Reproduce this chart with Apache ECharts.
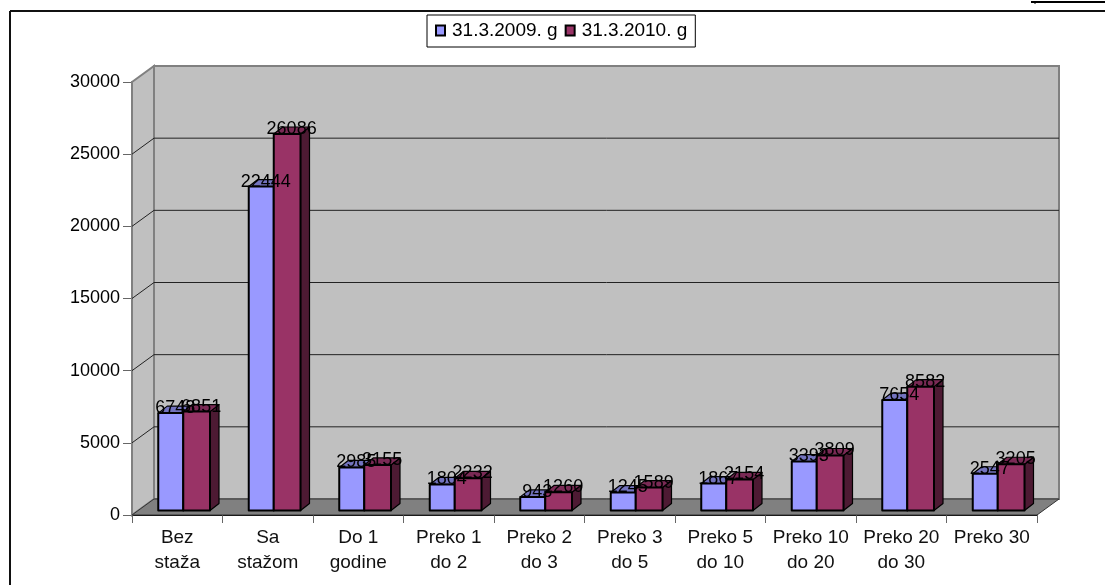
<!DOCTYPE html>
<html>
<head>
<meta charset="utf-8">
<script src="https://cdn.jsdelivr.net/npm/echarts@6/dist/echarts.min.js"></script>
<style>
  * { margin: 0; padding: 0; }
  body { background: #fff; }
  #chart-container { width: 1105px; height: 585px; overflow: hidden; }
</style>
</head>
<body>
<div id="chart-container"></div>
<script>
var categories = ['Bez\nstaža', 'Sa\nstažom', 'Do 1\ngodine', 'Preko 1\ndo 2', 'Preko 2\ndo 3', 'Preko 3\ndo 5', 'Preko 5\ndo 10', 'Preko 10\ndo 20', 'Preko 20\ndo 30', 'Preko 30']
var seriesNames = ['31.3.2009. g', '31.3.2010. g']
var values2009 = [6748, 22444, 2985, 1804, 943, 1245, 1867, 3393, 7654, 2547]
var values2010 = [6851, 26086, 3155, 2232, 1260, 1589, 2154, 3809, 8582, 3205]
var yTicks = [0, 5000, 10000, 15000, 20000, 25000, 30000]

var font = '"Liberation Sans", Arial, sans-serif'
// offset of the back wall from the front of the box
var wallX = 22
var wallY = -16

function toPairs(list) {
  return list.map(function (v, i) { return [i, v] })
}

function renderWalls(params, api) {
  var sys = params.coordSys
  var left = sys.x
  var right = sys.x + sys.width
  var top = sys.y
  var bottom = sys.y + sys.height
  var y = api.coord([0, api.value(0)])[1]
  var children = []
  if (params.dataIndex === 0) {
    children.push({
      type: 'polygon',
      shape: { points: [[left, top], [left + wallX, top + wallY], [left + wallX, bottom + wallY], [left, bottom]] },
      style: { fill: '#c0c0c0', stroke: '#808080', lineWidth: 2 },
    })
    children.push({
      type: 'polygon',
      shape: { points: [[left + wallX, top + wallY], [right + wallX, top + wallY], [right + wallX, bottom + wallY], [left + wallX, bottom + wallY]] },
      style: { fill: '#c0c0c0', stroke: '#808080', lineWidth: 2 },
    })
    children.push({
      type: 'polygon',
      shape: { points: [[left, bottom], [right, bottom], [right + wallX, bottom + wallY], [left + wallX, bottom + wallY]] },
      style: { fill: '#808080', stroke: '#333', lineWidth: 1 },
    })
  }
  if (api.value(0) > 0 && api.value(0) < 30000) {
    children.push({
      type: 'polyline',
      shape: { points: [[left, y], [left + wallX, y + wallY], [right + wallX, y + wallY]] },
      style: { fill: 'none', stroke: '#222', lineWidth: 1 },
    })
  }
  return { type: 'group', children: children }
}

function renderBars(from, to, front, topFace, side) {
  return function (params, api) {
    var top = api.coord([api.value(0), api.value(1)])
    var base = api.coord([api.value(0), 0])
    var x0 = top[0] + from
    var x1 = top[0] + to
    var yTop = top[1] - 4.5
    var yBase = base[1] - 4.5
    var dx = 9
    var dy = -7
    var thin = { stroke: '#000', lineWidth: 1.2, lineJoin: 'round' }
    var thick = { stroke: '#000', lineWidth: 2, lineJoin: 'round' }
    return {
      type: 'group',
      children: [
        {
          type: 'polygon',
          shape: { points: [[x1, yTop], [x1 + dx, yTop + dy], [x1 + dx, yBase + dy], [x1, yBase]] },
          style: Object.assign({ fill: side }, thin),
        },
        {
          type: 'polygon',
          shape: { points: [[x0, yTop], [x1, yTop], [x1 + dx, yTop + dy], [x0 + dx, yTop + dy]] },
          style: Object.assign({ fill: topFace }, thin),
        },
        {
          type: 'rect',
          shape: { x: x0, y: yTop, width: x1 - x0, height: yBase - yTop },
          style: Object.assign({ fill: front }, thick),
        },
        {
          type: 'text',
          z2: 100,
          style: {
            text: String(api.value(1)),
            x: (x0 + x1) / 2 + 4.5,
            y: yTop - 5,
            align: 'center',
            verticalAlign: 'middle',
            fill: '#000',
            font: '18px ' + font,
          },
        },
      ],
    }
  }
}

var myChart = echarts.init(document.getElementById('chart-container'), null, { renderer: 'canvas' })

var option = {
  animation: false,
  backgroundColor: '#fff',
  grid: { left: 132, top: 82, width: 905, height: 433, containLabel: false },
  legend: {
    data: seriesNames,
    left: 427,
    top: 15,
    orient: 'horizontal',
    icon: 'rect',
    itemWidth: 9,
    itemHeight: 10,
    itemGap: 7,
    padding: [6, 8, 7, 8],
    borderColor: '#000',
    borderWidth: 1,
    backgroundColor: '#fff',
    textStyle: { fontFamily: font, fontSize: 19, color: '#000', padding: [0, 0, 0, 2] },
  },
  xAxis: {
    type: 'category',
    data: categories,
    boundaryGap: true,
    axisLine: { lineStyle: { color: '#000', width: 2 } },
    axisTick: { show: true, length: 8, alignWithLabel: false, lineStyle: { color: '#666', width: 1 } },
    axisLabel: { interval: 0, margin: 10, color: '#111', fontFamily: font, fontSize: 19, lineHeight: 25 },
    splitLine: { show: false },
  },
  yAxis: {
    type: 'value',
    min: 0,
    max: 30000,
    interval: 5000,
    axisLine: { show: true, lineStyle: { color: '#666', width: 2 } },
    axisTick: { show: true, length: 9, lineStyle: { color: '#666', width: 1 } },
    axisLabel: {
      margin: 12,
      color: '#000',
      fontFamily: font,
      fontSize: 18,
      padding: [3, 0, 0, 0],
      formatter: function (v) { return String(v) },
    },
    splitLine: { show: false },
  },
  graphic: [
    { type: 'line', silent: true, shape: { x1: 10, y1: 11, x2: 1105, y2: 11 }, style: { stroke: '#111', lineWidth: 2 } },
    { type: 'line', silent: true, shape: { x1: 10, y1: 11, x2: 10, y2: 585 }, style: { stroke: '#111', lineWidth: 2 } },
    { type: 'line', silent: true, shape: { x1: 1031, y1: 2, x2: 1105, y2: 2 }, style: { stroke: '#000', lineWidth: 2 } },
    { type: 'line', silent: true, shape: { x1: 1035, y1: 2, x2: 1035, y2: 4 }, style: { stroke: '#000', lineWidth: 1 } },
  ],
  series: [
    {
      name: 'walls',
      type: 'custom',
      silent: true,
      z: 1,
      data: yTicks,
      encode: { y: 0 },
      renderItem: renderWalls,
    },
    {
      name: seriesNames[0],
      type: 'custom',
      z: 2,
      itemStyle: { color: '#9999ff', borderColor: '#000', borderWidth: 1 },
      data: toPairs(values2009),
      encode: { x: 0, y: 1 },
      renderItem: renderBars(-19, 6, '#9999ff', '#7373bf', '#4d4d80'),
    },
    {
      name: seriesNames[1],
      type: 'custom',
      z: 2,
      itemStyle: { color: '#993366', borderColor: '#000', borderWidth: 1 },
      data: toPairs(values2010),
      encode: { x: 0, y: 1 },
      renderItem: renderBars(6, 32.75, '#993366', '#7a2a55', '#4d1a33'),
    },
  ],
}

myChart.setOption(option)
</script>
</body>
</html>
